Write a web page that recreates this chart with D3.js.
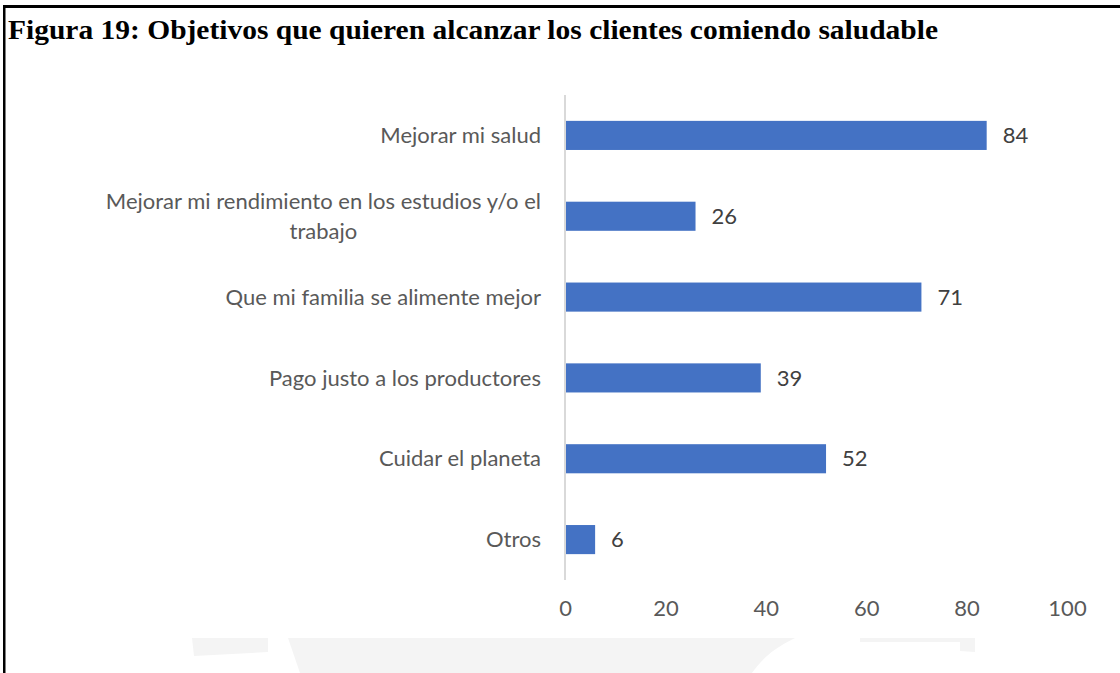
<!DOCTYPE html>
<html>
<head>
<meta charset="utf-8">
<script src="https://cdn.jsdelivr.net/npm/d3@7/dist/d3.min.js"></script>
<style>
  html, body { margin: 0; padding: 0; background: #fff; }
  svg { display: block; }
</style>
</head>
<body>
<svg id="chart" width="1120" height="673"></svg>
<script>
// Survey answers: goals customers want to reach by eating healthy
const categories = [
  "Mejorar mi salud",
  "Mejorar mi rendimiento en los estudios y/o el trabajo",
  "Que mi familia se alimente mejor",
  "Pago justo a los productores",
  "Cuidar el planeta",
  "Otros"
];
const values = [84, 26, 71, 39, 52, 6];
const tickValues = [0, 20, 40, 60, 80, 100];
const titleText = "Figura 19: Objetivos que quieren alcanzar los clientes comiendo saludable";

const svg = d3.select("#chart");
const W = 1120, H = 673;
const labelFont = "Lato, 'Open Sans', sans-serif";
const labelSize = 22;
const textColor = "#595959";

// faint background emblem along the bottom edge
const wm = svg.append("g").attr("fill", "#f4f4f4");
wm.append("path").attr("d", "M192,638 L268,638 L268,652 L194,656 Z");
wm.append("path").attr("d", "M288,638 L795,638 C770,650 760,662 752,673 L300,673 Z");
wm.append("path").attr("d", "M860,638 L975,638 L975,652 L960,651 L960,642 L860,642 Z");

// frame: top and left rules
svg.append("rect").attr("x", 3).attr("y", 5).attr("width", W - 3).attr("height", 3).attr("fill", "#000");
svg.append("rect").attr("x", 3).attr("y", 5).attr("width", 2.5).attr("height", H - 5).attr("fill", "#000");

// title, fitted to the figure's caption width
svg.append("text")
  .attr("x", 8).attr("y", 39)
  .attr("font-family", "'Liberation Serif', 'Times New Roman', serif")
  .attr("font-weight", "bold")
  .attr("font-size", 27)
  .attr("fill", "#000")
  .attr("textLength", 930)
  .attr("lengthAdjust", "spacingAndGlyphs")
  .text(titleText);

const x = d3.scaleLinear().domain([0, 100]).range([565, 1067]);
const y = d3.scaleBand().domain(categories).range([95, 580]).paddingInner(0.64).paddingOuter(0.32);

// bars
svg.append("g").selectAll("rect")
  .data(values)
  .join("rect")
  .attr("x", x(0))
  .attr("y", (d, i) => y(categories[i]))
  .attr("width", d => x(d) - x(0))
  .attr("height", y.bandwidth())
  .attr("fill", "#4472c4");

// vertical category axis line
svg.append("line")
  .attr("x1", x(0)).attr("x2", x(0))
  .attr("y1", 95).attr("y2", 580)
  .attr("stroke", "#d9d9d9").attr("stroke-width", 2);

// value axis (labels only)
const xAxis = svg.append("g")
  .attr("transform", "translate(0,600)")
  .call(d3.axisBottom(x).tickValues(tickValues).tickSize(0).tickPadding(0));
xAxis.select(".domain").remove();
xAxis.selectAll("text")
  .attr("font-family", labelFont)
  .attr("font-size", labelSize)
  .attr("fill", textColor)
  .attr("dy", "0.71em");

// category labels, wrapping long ones into centred lines
const labelRight = 541;
const wrapLimit = 470;
const catG = svg.append("g");
categories.forEach(c => {
  const cy = y(c) + y.bandwidth() / 2;
  const words = c.split(" ");
  const lines = [];
  const probe = catG.append("text")
    .attr("font-family", labelFont).attr("font-size", labelSize);
  let cur = "";
  words.forEach(w => {
    const test = cur ? cur + " " + w : w;
    probe.text(test);
    if (probe.node().getComputedTextLength() > wrapLimit && cur) {
      lines.push(cur);
      cur = w;
    } else cur = test;
  });
  lines.push(cur);
  const widths = lines.map(l => { probe.text(l); return probe.node().getComputedTextLength(); });
  probe.remove();
  const maxW = d3.max(widths);
  const lh = 30;
  const t = catG.append("text")
    .attr("font-family", labelFont).attr("font-size", labelSize)
    .attr("fill", textColor)
    .attr("text-anchor", lines.length > 1 ? "middle" : "end");
  lines.forEach((l, i) => {
    t.append("tspan")
      .attr("x", lines.length > 1 ? labelRight - maxW / 2 : labelRight)
      .attr("y", cy + (i - (lines.length - 1) / 2) * lh)
      .attr("dy", "0.35em")
      .text(l);
  });
});

// value labels at bar ends
svg.append("g").selectAll("text")
  .data(values)
  .join("text")
  .attr("x", d => x(d) + 16)
  .attr("y", (d, i) => y(categories[i]) + y.bandwidth() / 2)
  .attr("dy", "0.35em")
  .attr("font-family", labelFont)
  .attr("font-size", labelSize)
  .attr("fill", "#404040")
  .text(d => d);
</script>
</body>
</html>
